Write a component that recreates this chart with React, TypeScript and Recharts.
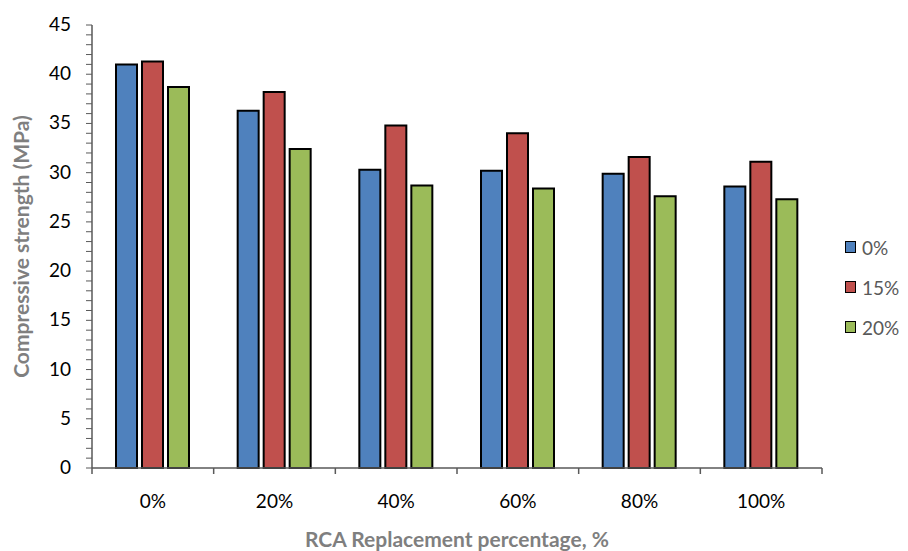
import React from 'react';
import {
  Bar,
  BarChart,
  Label,
  XAxis,
  YAxis,
} from 'recharts';

const categories = ['0%', '20%', '40%', '60%', '80%', '100%'];
const series0 = [41.0, 36.3, 30.3, 30.2, 29.9, 28.6];
const series15 = [41.3, 38.2, 34.8, 34.0, 31.6, 31.1];
const series20 = [38.7, 32.4, 28.7, 28.4, 27.6, 27.3];
const seriesNames = ['0%', '15%', '20%'];

const yTicks = Array.from({ length: 46 }, (_, i) => i);

const colors = ['#4F81BD', '#C0504D', '#9BBB59'];
const font = 'Lato, "Open Sans", sans-serif';

// plot area is 730px wide, 6 categories
const BAND = 730 / 6;

const data = categories.map((c, i) => ({
  name: c,
  s0: series0[i],
  s15: series15[i],
  s20: series20[i],
}));

const YTick = (props: any) => {
  const { x, y, payload } = props;
  if (payload.value % 5 !== 0) return <g />;
  return (
    <text x={x - 13} y={y} dy={6} textAnchor="end" fontSize={19} fill="#000" fontFamily={font}>
      {payload.value}
    </text>
  );
};

const XTick = (props: any) => {
  const { x, y, payload, index } = props;
  const top = y - 24;
  return (
    <g>
      {index === 0 && (
        <line x1={x - BAND / 2} x2={x - BAND / 2} y1={top} y2={top + 6} stroke="#595959" strokeWidth={1.5} />
      )}
      <line x1={x + BAND / 2} x2={x + BAND / 2} y1={top} y2={top + 6} stroke="#595959" strokeWidth={1.5} />
      <text x={x} y={y} dy={16} textAnchor="middle" fontSize={19} fill="#000" fontFamily={font}>
        {payload.value}
      </text>
    </g>
  );
};

const LegendBox = () => (
  <div style={{ position: 'absolute', left: 845, top: 227, fontFamily: font }}>
    {seriesNames.map((n, i) => (
      <div key={n} style={{ display: 'flex', alignItems: 'center', height: 40 }}>
        <div
          style={{
            width: 9,
            height: 10,
            background: colors[i],
            border: '1.5px solid #000',
            marginRight: 6,
          }}
        />
        <span style={{ fontSize: 19, color: '#595959' }}>{n}</span>
      </div>
    ))}
  </div>
);

export default function App() {
  return (
    <div style={{ position: 'absolute', left: 0, top: 0, width: 908, height: 551, background: '#fff' }}>
      <BarChart
        width={908}
        height={551}
        data={data}
        margin={{ top: 25, right: 86, left: 0, bottom: 0 }}
        barCategoryGap={24}
        barGap={5}
      >
        <XAxis
          dataKey="name"
          height={83}
          axisLine={{ stroke: '#595959', strokeWidth: 1.5 }}
          tickLine={false}
          tick={<XTick />}
          tickSize={0}
          tickMargin={24}
          interval={0}
        >
          <Label
            value="RCA Replacement percentage, %"
            position="insideBottom"
            offset={4}
            style={{ fontSize: 21, fontWeight: 700, fill: '#7F7F7F', fontFamily: font }}
          />
        </XAxis>
        <YAxis
          width={92}
          domain={[0, 45]}
          ticks={yTicks}
          interval={0}
          axisLine={{ stroke: '#595959', strokeWidth: 1.5 }}
          tickLine={{ stroke: '#595959', strokeWidth: 1 }}
          tickSize={6}
          tick={<YTick />}
        >
          <Label
            value="Compressive strength (MPa)"
            angle={-90}
            position="insideLeft"
            offset={22}
            style={{ fontSize: 21, fontWeight: 700, fill: '#7F7F7F', fontFamily: font, textAnchor: 'middle' }}
          />
        </YAxis>
        <Bar dataKey="s0" name={seriesNames[0]} fill={colors[0]} stroke="#000" strokeWidth={2} isAnimationActive={false} />
        <Bar dataKey="s15" name={seriesNames[1]} fill={colors[1]} stroke="#000" strokeWidth={2} isAnimationActive={false} />
        <Bar dataKey="s20" name={seriesNames[2]} fill={colors[2]} stroke="#000" strokeWidth={2} isAnimationActive={false} />
      </BarChart>
      <LegendBox />
    </div>
  );
}
